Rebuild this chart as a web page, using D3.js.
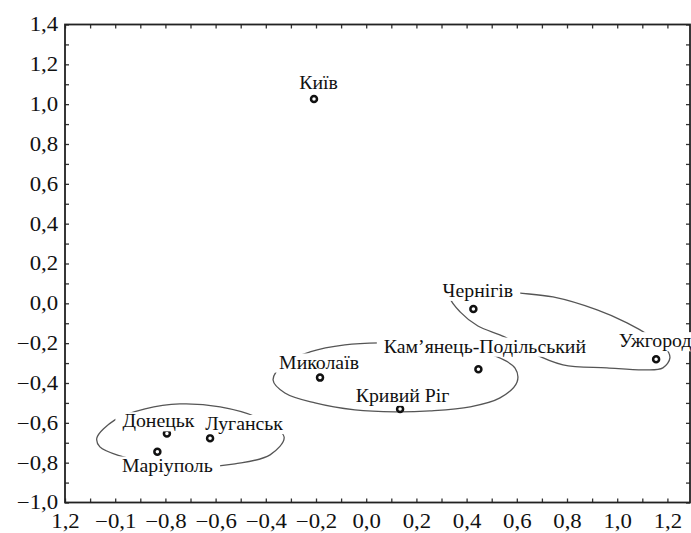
<!DOCTYPE html>
<html>
<head>
<meta charset="utf-8">
<script src="https://cdn.jsdelivr.net/npm/d3@7"></script>
<style>
  html, body { margin: 0; padding: 0; background: #fff; }
  svg { display: block; }
</style>
</head>
<body>
<svg id="chart" width="691" height="533"></svg>
<script>
// Cities and their coordinates on the two scaling dimensions
const cities = ["Київ", "Чернігів", "Ужгород", "Кам’янець-Подільський", "Миколаїв",
                "Кривий Ріг", "Донецьк", "Луганськ", "Маріуполь"];
const dim1 = [-0.208, 0.427, 1.155, 0.447, -0.184, 0.135, -0.794, -0.622, -0.832];
const dim2 = [1.026, -0.028, -0.281, -0.331, -0.373, -0.530, -0.653, -0.677, -0.745];

// Hand-traced outlines of the three city clusters (dim1, dim2)
const clusterEast = [[-1.073, -0.676], [-1.001, -0.585], [-0.881, -0.530], [-0.742, -0.505],
  [-0.582, -0.520], [-0.431, -0.575], [-0.327, -0.671], [-0.383, -0.761], [-0.523, -0.806],
  [-0.662, -0.821], [-0.822, -0.806], [-0.981, -0.766], [-1.061, -0.721]];
const clusterCentre = [[-0.371, -0.385], [-0.324, -0.299], [-0.224, -0.244], [-0.085, -0.209],
  [0.055, -0.199], [0.214, -0.204], [0.374, -0.224], [0.513, -0.264], [0.593, -0.325],
  [0.601, -0.395], [0.533, -0.475], [0.414, -0.520], [0.254, -0.540], [0.115, -0.545],
  [-0.045, -0.535], [-0.204, -0.500], [-0.324, -0.450]];
const clusterWest = [[0.342, 0.077], [0.453, 0.072], [0.605, 0.052], [0.744, 0.032],
  [0.920, -0.033], [1.039, -0.098], [1.131, -0.164], [1.190, -0.219], [1.210, -0.274],
  [1.182, -0.324], [1.111, -0.334], [0.959, -0.324], [0.784, -0.309], [0.653, -0.244],
  [0.553, -0.169], [0.445, -0.114], [0.374, -0.043], [0.334, 0.027]];

// Axis ticks and their printed labels
const xTickValues = [-1.2, -1.0, -0.8, -0.6, -0.4, -0.2, 0.0, 0.2, 0.4, 0.6, 0.8, 1.0, 1.2];
const xTickLabels = ["1,2", "−0,1", "−0,8", "−0,6", "−0,4", "−0,2", "0,0", "0,2", "0,4", "0,6", "0,8", "1,0", "1,2"];
const yTickValues = [-1.0, -0.8, -0.6, -0.4, -0.2, 0.0, 0.2, 0.4, 0.6, 0.8, 1.0, 1.2, 1.4];
const yTickLabels = ["−1,0", "−0,8", "−0,6", "−0,4", "−0,2", "0,0", "0,2", "0,4", "0,6", "0,8", "1,0", "1,2", "1,4"];

// Label placement relative to each point: [dx of text centre, dy of baseline] in px
const labelOffsets = [[4.5, -10], [4.5, -12], [-1, -12], [6.5, -16.5], [-1, -9],
                      [2.5, -7], [-8.5, -6], [34, -8], [10, 20]];

const FONT = '"Liberation Serif", "Times New Roman", serif';
const SX_AXIS = 1.14;  // horizontal stretch of the tick lettering
const SX_LABEL = 1.1;  // horizontal stretch of the city names

const svg = d3.select("#chart");
const plotLeft = 65, plotRight = 690, plotTop = 24.5, plotBottom = 502.5;

const x = d3.scaleLinear().domain([-1.2, 1.29]).range([plotLeft, plotRight]);
const y = d3.scaleLinear().domain([-1.0, 1.4]).range([plotBottom, plotTop]);

const minorX = d3.range(-12, 13).map(d => d / 10);
const minorY = d3.range(-10, 15).map(d => d / 10);

// Frame ticks (all pointing inward)
function styleTicks(g) {
  g.select(".domain").remove();
  g.selectAll(".tick line").attr("stroke", "#333").attr("stroke-width", 1.3);
}
svg.append("g").attr("transform", `translate(0,${plotBottom})`)
  .call(d3.axisBottom(x).tickValues(minorX).tickSize(-4).tickFormat(""))
  .call(styleTicks);
svg.append("g").attr("transform", `translate(0,${plotTop})`)
  .call(d3.axisTop(x).tickValues(minorX).tickSize(-4).tickFormat(""))
  .call(styleTicks);
svg.append("g").attr("transform", `translate(${plotLeft},0)`)
  .call(d3.axisLeft(y).tickValues(minorY).tickSize(-4).tickFormat(""))
  .call(styleTicks);
svg.append("g").attr("transform", `translate(${plotRight},0)`)
  .call(d3.axisRight(y).tickValues(minorY).tickSize(-4).tickFormat(""))
  .call(styleTicks);

// Tick labels
function styleLabels(g) {
  g.select(".domain").remove();
  g.attr("font-family", null).attr("font-size", null);
  g.selectAll("text")
    .style("font-family", FONT).style("font-size", "20px")
    .attr("fill", "#111")
    .attr("transform", `scale(${SX_AXIS},1)`);
}
svg.append("g").attr("transform", `translate(0,${plotBottom})`)
  .call(d3.axisBottom(x).tickValues(xTickValues).tickSize(0).tickPadding(11)
    .tickFormat((d, i) => xTickLabels[i]))
  .call(styleLabels);
svg.append("g").attr("transform", `translate(${plotLeft},0)`)
  .call(d3.axisLeft(y).tickValues(yTickValues).tickSize(0).tickPadding(6)
    .tickFormat((d, i) => yTickLabels[i]))
  .call(styleLabels);

// Plot frame
svg.append("rect")
  .attr("x", plotLeft).attr("y", plotTop)
  .attr("width", plotRight - plotLeft).attr("height", plotBottom - plotTop)
  .attr("fill", "none").attr("stroke", "#222").attr("stroke-width", 1.8);

// Cluster outlines
const outline = d3.line()
  .x(d => x(d[0])).y(d => y(d[1]))
  .curve(d3.curveCatmullRomClosed.alpha(0.5));
svg.append("g").selectAll("path")
  .data([clusterEast, clusterCentre, clusterWest])
  .join("path")
  .attr("d", outline)
  .attr("fill", "none")
  .attr("stroke", "#555")
  .attr("stroke-width", 1.3);

// City points
svg.append("g").selectAll("circle")
  .data(cities)
  .join("circle")
  .attr("cx", (d, i) => x(dim1[i]))
  .attr("cy", (d, i) => y(dim2[i]))
  .attr("r", 3)
  .attr("fill", "#fff")
  .attr("stroke", "#111")
  .attr("stroke-width", 2.5);

// City labels on white boxes
const labels = svg.append("g").selectAll("g")
  .data(cities)
  .join("g")
  .attr("transform", (d, i) =>
    `translate(${x(dim1[i]) + labelOffsets[i][0]},${y(dim2[i]) + labelOffsets[i][1]})`);

labels.each(function(d) {
  const g = d3.select(this);
  const rect = g.append("rect").attr("fill", "#fff");
  const t = g.append("text")
    .attr("text-anchor", "middle")
    .style("font-family", FONT)
    .style("font-size", "18px")
    .attr("fill", "#111")
    .attr("transform", `scale(${SX_LABEL},1)`)
    .text(d);
  const b = t.node().getBBox();
  rect.attr("x", b.x * SX_LABEL - 7).attr("y", b.y + 1)
    .attr("width", b.width * SX_LABEL + 14).attr("height", 3 - b.y);
});
</script>
</body>
</html>
